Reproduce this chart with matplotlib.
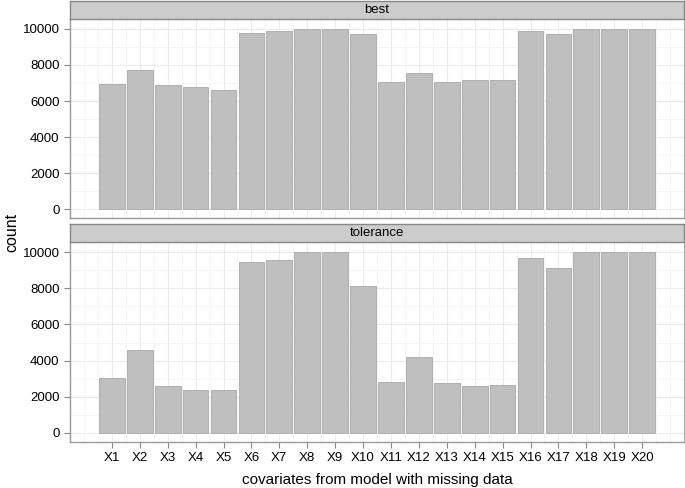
import matplotlib.pyplot as plt
from matplotlib.ticker import MultipleLocator

plt.rcParams['font.family'] = ['Liberation Sans', 'DejaVu Sans']

# Data
covariates = [f"X{i}" for i in range(1, 21)]
best_counts = [6950, 7700, 6900, 6760, 6630, 9800, 9910, 10000, 10000, 9710,
               7050, 7550, 7060, 7160, 7140, 9910, 9730, 10000, 10000, 10000]
tolerance_counts = [3020, 4610, 2610, 2380, 2390, 9470, 9560, 10000, 10000, 8120,
                    2830, 4190, 2740, 2610, 2670, 9690, 9100, 10000, 10000, 10000]
panels = [("best", best_counts), ("tolerance", tolerance_counts)]

W, H = 685, 488
fig = plt.figure(figsize=(W / 100, H / 100), dpi=100)

left, right = 70 / W, 684 / W
# (strip top, panel top, panel bottom) in pixels
boxes = [(1, 20, 218), (224, 243, 442)]

positions = list(range(1, 21))
for (name, counts), (s_top, p_top, p_bot) in zip(panels, boxes):
    ax = fig.add_axes([left, 1 - p_bot / H, right - left, (p_bot - p_top) / H])
    ax.bar(positions, counts, width=0.925, color="#bfbfbf", edgecolor="#a9a9a9",
           linewidth=0.6, zorder=3)
    ax.set_xlim(-0.42, 21.43)
    ax.set_ylim(-500, 10500)
    ax.yaxis.set_major_locator(MultipleLocator(2000))
    ax.yaxis.set_minor_locator(MultipleLocator(1000))
    ax.set_xticks(positions)
    ax.set_xticks([p - 0.5 for p in range(0, 23)] + [0, 21], minor=True)
    ax.grid(which="major", color="#ebebeb", linewidth=0.8, zorder=0)
    ax.grid(which="minor", color="#f4f4f4", linewidth=0.6, zorder=0)
    ax.tick_params(axis="y", which="major", labelsize=9.5, colors="#888888",
                   labelcolor="black", length=4, width=0.8)
    ax.tick_params(which="minor", length=0)
    for side in ["left", "bottom"]:
        ax.spines[side].set_color("#999999")
        ax.spines[side].set_linewidth(1.0)
    ax.spines["top"].set_visible(False)
    ax.spines["right"].set_color("#aaaaaa")
    ax.spines["right"].set_linewidth(0.8)
    if name == "tolerance":
        ax.set_xticklabels(covariates)
        ax.tick_params(axis="x", which="major", labelsize=9.5, colors="#888888",
                       labelcolor="black", length=4, width=0.8)
        ax.set_xlabel("covariates from model with missing data", fontsize=11,
                      labelpad=6)
    else:
        ax.tick_params(axis="x", which="major", labelbottom=False, length=0)

    # facet strip
    sax = fig.add_axes([left, 1 - (p_top - 1) / H, right - left, (p_top - 1 - s_top) / H])
    sax.set_facecolor("#cccccc")
    sax.set_xticks([])
    sax.set_yticks([])
    for sp in sax.spines.values():
        sp.set_color("#888888")
        sp.set_linewidth(1.0)
    sax.text(0.5, 0.5, name, ha="center", va="center", fontsize=9.5,
             transform=sax.transAxes)

fig.text(12 / W, 1 - 232 / H, "count", rotation=90, ha="center", va="center",
         fontsize=11.5)

fig.savefig("out.png", dpi=100)
